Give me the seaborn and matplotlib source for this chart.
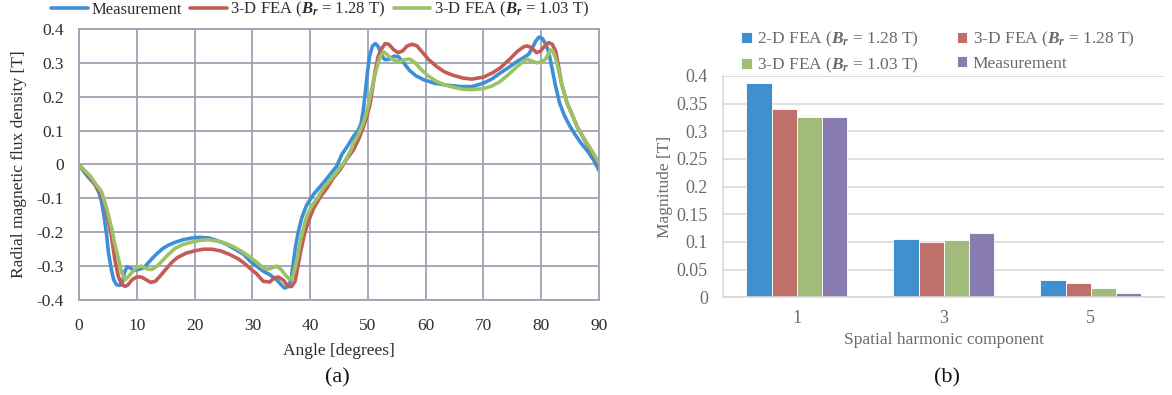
import numpy as np
import pandas as pd
import matplotlib
matplotlib.use("Agg")
import matplotlib.pyplot as plt
import seaborn as sns

# ---------------- data: (a) radial flux density vs angle ----------------
meas_angle = [0, 1.0, 2.0, 2.8, 3.5, 3.9, 4.4, 4.8, 5.1, 5.6, 6.0, 6.5, 7.0, 7.5, 7.9,
              8.3, 8.8, 9.5, 10.3, 11.2, 12.0, 12.8, 13.7, 14.5, 15.5, 16.6, 18.0,
              19.5, 21.0, 22.5, 24.0, 25.5, 27.0, 28.5, 29.6, 30.7, 31.9, 33.0, 34.2,
              35.0, 35.6, 36.2, 36.7, 37.1, 37.5, 38.0, 38.6, 39.4, 40.6, 42.0, 43.2,
              44.6, 45.5, 46.5, 47.5, 48.3, 48.8, 49.2, 49.6, 49.9, 50.3, 50.8, 51.3,
              51.8, 52.3, 52.9, 53.6, 54.5, 55.3, 56.2, 57.2, 58.3, 59.7, 61.5, 63.8,
              66.0, 68.0, 70.0, 71.5, 72.9, 74.5, 75.8, 77.0, 77.8, 78.5, 79.0, 79.6,
              80.2, 80.8, 81.3, 81.8, 82.5, 83.2, 84.0, 84.8, 85.8, 86.8, 88.0, 89.0,
              90.0]
meas_flux = [0, -0.025, -0.045, -0.06, -0.085, -0.11, -0.16, -0.21, -0.26, -0.31, -0.34,
             -0.355, -0.357, -0.35, -0.318, -0.302, -0.305, -0.312, -0.31, -0.305,
             -0.29, -0.275, -0.26, -0.248, -0.238, -0.23, -0.222, -0.217, -0.215,
             -0.217, -0.225, -0.235, -0.25, -0.265, -0.285, -0.3, -0.315, -0.325,
             -0.34, -0.355, -0.365, -0.36, -0.34, -0.29, -0.24, -0.195, -0.155, -0.12,
             -0.088, -0.06, -0.035, -0.005, 0.03, 0.055, 0.083, 0.1, 0.12, 0.16, 0.22,
             0.27, 0.32, 0.35, 0.357, 0.348, 0.325, 0.31, 0.31, 0.32, 0.318, 0.3,
             0.278, 0.262, 0.25, 0.24, 0.234, 0.23, 0.23, 0.24, 0.253, 0.27, 0.288,
             0.304, 0.316, 0.325, 0.345, 0.363, 0.376, 0.372, 0.355, 0.33, 0.29, 0.23,
             0.18, 0.145, 0.118, 0.09, 0.065, 0.04, 0.015, -0.018]

fea128_angle = [0, 1, 2, 3, 3.9, 4.5, 5.0, 5.6, 6.2, 6.8, 7.4, 8.0, 8.5, 9.2, 10.0, 10.8,
                11.6, 12.4, 13.2, 14.0, 15.0, 16.0, 17.0, 18.5, 20.0, 21.5, 23.0, 24.5,
                26.0, 27.5, 28.5, 29.5, 30.7, 31.9, 33.0, 33.8, 34.5, 35.4, 36.2, 36.8,
                37.4, 37.9, 38.3, 39.1, 40.0, 40.6, 41.8, 42.9, 44.0, 45.2, 46.3, 47.5,
                48.5, 49.2, 49.8, 50.4, 50.9, 51.3, 51.8, 52.3, 53.0, 53.6, 54.4, 55.2,
                56.0, 56.8, 57.7, 58.5, 59.5, 60.5, 61.9, 63.3, 64.8, 66.5, 68.0, 70.0,
                71.5, 72.9, 74.5, 75.8, 77.0, 77.6, 78.3, 79.2, 79.9, 80.6, 81.3, 81.9,
                82.5, 83.0, 83.5, 84.0, 84.5, 85.3, 86.2, 87.3, 88.5, 89.3, 90.0]
fea128_flux = [0, -0.02, -0.04, -0.065, -0.09, -0.12, -0.16, -0.21, -0.28, -0.33, -0.355,
               -0.36, -0.355, -0.34, -0.332, -0.332, -0.34, -0.348, -0.345, -0.33,
               -0.31, -0.29, -0.275, -0.262, -0.255, -0.25, -0.25, -0.255, -0.265,
               -0.278, -0.29, -0.305, -0.322, -0.345, -0.347, -0.335, -0.332, -0.342,
               -0.36, -0.36, -0.345, -0.3, -0.262, -0.2, -0.155, -0.13, -0.095, -0.07,
               -0.04, -0.015, 0.015, 0.043, 0.078, 0.11, 0.14, 0.18, 0.235, 0.28, 0.32,
               0.34, 0.357, 0.355, 0.34, 0.33, 0.335, 0.35, 0.355, 0.35, 0.33, 0.31,
               0.289, 0.273, 0.263, 0.255, 0.252, 0.258, 0.27, 0.285, 0.31, 0.333,
               0.348, 0.35, 0.345, 0.33, 0.335, 0.35, 0.36, 0.355, 0.335, 0.29, 0.24,
               0.21, 0.18, 0.15, 0.112, 0.078, 0.043, 0.022, 0.0]

fea103_angle = [0, 1, 2, 3, 3.9, 4.8, 5.65, 6.2, 6.8, 7.4, 8.0, 8.6, 9.1, 9.9, 10.8, 11.8,
                12.6, 13.5, 14.3, 15.5, 16.6, 18.0, 19.5, 21.0, 22.4, 24.0, 25.3, 26.8,
                28.2, 29.5, 30.7, 31.7, 32.5, 33.3, 34.2, 35.0, 35.8, 36.5, 37.0, 37.4,
                37.9, 38.3, 38.9, 39.4, 40.2, 41.2, 42.3, 43.5, 44.8, 46.0, 47.0, 47.5,
                48.4, 49.2, 49.8, 50.4, 51.0, 51.6, 52.2, 52.7, 53.3, 53.9, 54.8, 55.6,
                56.5, 57.3, 58.2, 59.0, 60.4, 61.9, 63.3, 64.8, 66.5, 68.0, 70.0, 71.5,
                72.9, 74.5, 75.8, 77.0, 77.5, 78.3, 79.2, 80.0, 80.7, 81.2, 81.6, 82.0,
                82.5, 83.0, 83.5, 84.5, 85.3, 86.2, 87.3, 88.5, 89.3, 90.0]
fea103_flux = [0, -0.018, -0.035, -0.06, -0.08, -0.13, -0.188, -0.235, -0.276, -0.32,
               -0.34, -0.33, -0.32, -0.305, -0.3, -0.308, -0.31, -0.3, -0.286, -0.265,
               -0.248, -0.236, -0.229, -0.224, -0.222, -0.226, -0.232, -0.243, -0.257,
               -0.272, -0.288, -0.302, -0.31, -0.306, -0.3, -0.31, -0.328, -0.34, -0.33,
               -0.305, -0.265, -0.227, -0.185, -0.153, -0.125, -0.1, -0.07, -0.045,
               -0.018, 0.009, 0.04, 0.063, 0.09, 0.122, 0.155, 0.2, 0.25, 0.289, 0.32,
               0.333, 0.325, 0.314, 0.306, 0.304, 0.31, 0.311, 0.3, 0.284, 0.262, 0.245,
               0.235, 0.228, 0.222, 0.221, 0.224, 0.232, 0.245, 0.268, 0.289, 0.305,
               0.311, 0.306, 0.3, 0.303, 0.31, 0.325, 0.338, 0.335, 0.314, 0.28, 0.24,
               0.18, 0.148, 0.112, 0.08, 0.048, 0.025, 0.005]

line_labels = ["Measurement", "3-D FEA ($B_r$ = 1.28 T)", "3-D FEA ($B_r$ = 1.03 T)"]

# ---------------- data: (b) spatial harmonic magnitudes ----------------
harmonics = ["1", "3", "5"]
bar_labels = ["2-D FEA ($B_r$ = 1.28 T)", "3-D FEA ($B_r$ = 1.28 T)",
              "3-D FEA ($B_r$ = 1.03 T)", "Measurement"]
fea2d_128 = [0.388, 0.105, 0.031]
fea3d_128 = [0.340, 0.100, 0.025]
fea3d_103 = [0.325, 0.103, 0.017]
measured = [0.325, 0.116, 0.008]

# ---------------- style ----------------
sns.set_theme(style="white")
plt.rcParams["font.family"] = ["Liberation Serif", "DejaVu Serif"]
plt.rcParams["mathtext.fontset"] = "custom"
plt.rcParams["mathtext.rm"] = "Liberation Serif"
plt.rcParams["mathtext.it"] = "Liberation Serif:italic:bold"
plt.rcParams["mathtext.bf"] = "Liberation Serif:bold"
plt.rcParams["axes.unicode_minus"] = False

line_colors = ["#3d8fd6", "#c45c56", "#9cc268"]
bar_colors = ["#418fcd", "#c0706a", "#a1bb7a", "#887bb0"]
grid_a = "#9ba3b3"
grid_b = "#d9d9d9"
text_a = "#2e2e2e"
text_b = "#6a6a6a"

fig = plt.figure(figsize=(11.72, 3.95), dpi=100)

# ---------------- (a) line chart ----------------
ax1 = fig.add_axes([0.0674, 0.2405, 0.4437, 0.6861])
df_lines = pd.concat([
    pd.DataFrame({"angle": meas_angle, "flux": meas_flux, "series": line_labels[0]}),
    pd.DataFrame({"angle": fea128_angle, "flux": fea128_flux, "series": line_labels[1]}),
    pd.DataFrame({"angle": fea103_angle, "flux": fea103_flux, "series": line_labels[2]}),
], ignore_index=True)
sns.lineplot(data=df_lines, x="angle", y="flux", hue="series", hue_order=line_labels,
             palette=line_colors, linewidth=2.6, estimator=None, ax=ax1)

ax1.set_xlim(0, 90)
ax1.set_ylim(-0.4, 0.4)
ax1.set_xticks(np.arange(0, 91, 10))
ax1.set_yticks(np.round(np.arange(-0.4, 0.41, 0.1), 1))
ax1.set_yticklabels(["-0.4", "-0.3", "-0.2", "-0.1", "0", "0.1", "0.2", "0.3", "0.4"])
ax1.grid(True, color=grid_a, linewidth=1.3)
ax1.set_axisbelow(True)
for s in ax1.spines.values():
    s.set_color(grid_a)
    s.set_linewidth(1.3)
ax1.tick_params(axis="both", length=0, labelsize=12.5, colors=text_a)
ax1.tick_params(axis="x", pad=13)
ax1.tick_params(axis="y", pad=11)
ax1.set_xlabel("Angle [degrees]", fontsize=12.5, color=text_a)
ax1.set_ylabel("Radial magnetic flux density [T]", fontsize=12.5, color=text_a)
ax1.xaxis.set_label_coords(0.5, -0.16)
ax1.yaxis.set_label_coords(-0.1, 0.5)

h1, l1 = ax1.get_legend_handles_labels()
ax1.legend(h1, l1, loc="center", bbox_to_anchor=(0.273, 0.975),
           bbox_transform=fig.transFigure, ncol=3, frameon=False, fontsize=12,
           handlelength=2.2, handletextpad=0.2, columnspacing=0.5, labelcolor=text_a)

fig.text(0.2875, 0.043, "(a)", fontsize=16, color="#111111", ha="center", va="center")

# ---------------- (b) bar chart ----------------
ax2 = fig.add_axes([0.6171, 0.2473, 0.3763, 0.5603])
df_bars = pd.DataFrame({
    "harmonic": harmonics * 4,
    "magnitude": fea2d_128 + fea3d_128 + fea3d_103 + measured,
    "source": [bar_labels[0]] * 3 + [bar_labels[1]] * 3 + [bar_labels[2]] * 3 + [bar_labels[3]] * 3,
})
sns.barplot(data=df_bars, x="harmonic", y="magnitude", hue="source", hue_order=bar_labels,
            order=harmonics, palette=bar_colors, saturation=1, width=0.685,
            edgecolor="white", linewidth=0.6, ax=ax2)

ax2.set_ylim(0, 0.4)
yt = np.round(np.arange(0, 0.401, 0.05), 2)
ax2.set_yticks(yt)
ax2.set_yticklabels(["0", "0.05", "0.1", "0.15", "0.2", "0.25", "0.3", "0.35", "0.4"])
ax2.grid(True, axis="y", color=grid_b, linewidth=1.2)
ax2.set_axisbelow(True)
for name, s in ax2.spines.items():
    s.set_visible(name in ("left", "bottom"))
    s.set_color(grid_b)
    s.set_linewidth(1.2)
ax2.tick_params(axis="both", length=0, labelsize=13, colors=text_b)
ax2.tick_params(axis="x", pad=9)
ax2.tick_params(axis="y", pad=11)
ax2.set_xlabel("Spatial harmonic component", fontsize=12.5, color=text_b)
ax2.set_ylabel("Magnitude [T]", fontsize=12.5, color=text_b)
ax2.xaxis.set_label_coords(0.5, -0.155)
ax2.yaxis.set_label_coords(-0.115, 0.5)

h2, l2 = ax2.get_legend_handles_labels()
order = [0, 2, 1, 3]
ax2.legend([h2[i] for i in order], [l2[i] for i in order], loc="center",
           bbox_to_anchor=(0.8003, 0.867), bbox_transform=fig.transFigure, ncol=2,
           frameon=False, fontsize=12.5, handlelength=0.6, handleheight=0.6,
           handletextpad=0.3, columnspacing=2.2, labelspacing=0.35, labelcolor=text_b)

fig.text(0.8077, 0.043, "(b)", fontsize=16, color="#111111", ha="center", va="center")

fig.savefig("out.png", dpi=100, facecolor="white")
